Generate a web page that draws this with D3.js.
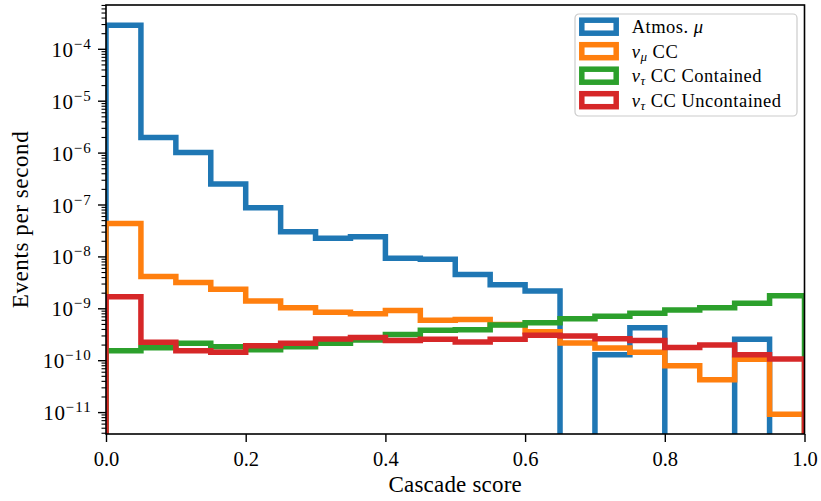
<!DOCTYPE html>
<html>
<head>
<meta charset="utf-8">
<script src="https://cdn.jsdelivr.net/npm/d3@7"></script>
<style>
  body { margin: 0; background: #fff; }
  svg { font-family: "Liberation Serif", "DejaVu Serif", serif; }
</style>
</head>
<body>
<svg id="chart" width="821" height="501"></svg>
<script>
// bin edges: 20 bins of width 0.05 on the cascade score
const binEdges = d3.range(0, 21).map(i => i * 0.05);

// events per second per bin (0 = empty bin)
const atmosMu = [2.9e-4, 2.0e-6, 1.03e-6, 2.55e-7, 8.9e-8, 3.05e-8, 2.3e-8, 2.45e-8, 9.4e-9, 9.0e-9,
                 4.6e-9, 2.9e-9, 2.2e-9, 0, 1.3e-10, 4.3e-10, 0, 0, 2.6e-10, 0];
const numuCC = [4.4e-8, 4.2e-9, 3.2e-9, 2.37e-9, 1.41e-9, 1.05e-9, 8.6e-10, 8.0e-10, 9.3e-10, 6.0e-10,
                6.2e-10, 5.0e-10, 3.6e-10, 2.2e-10, 1.75e-10, 1.45e-10, 8.0e-11, 4.3e-11, 1.07e-10, 9.3e-12];
const nutauContained = [1.55e-10, 1.78e-10, 2.16e-10, 1.86e-10, 1.62e-10, 1.86e-10, 2.16e-10, 2.5e-10, 3.2e-10, 3.85e-10,
                        3.95e-10, 4.9e-10, 5.4e-10, 6.4e-10, 7.2e-10, 8.2e-10, 9.5e-10, 1.05e-9, 1.28e-9, 1.78e-9];
const nutauUncontained = [1.7e-9, 2.26e-10, 1.55e-10, 1.45e-10, 1.94e-10, 2.16e-10, 2.63e-10, 2.8e-10, 2.45e-10, 2.6e-10,
                          2.3e-10, 2.6e-10, 3.1e-10, 3.0e-10, 2.66e-10, 2.45e-10, 1.8e-10, 2.0e-10, 1.3e-10, 1.08e-10];

const seriesNames = ["Atmos. μ", "ν_μ CC", "ν_τ CC Contained", "ν_τ CC Uncontained"];
const seriesColors = ["#1f77b4", "#ff7f0e", "#2ca02c", "#d62728"];
const seriesValues = [atmosMu, numuCC, nutauContained, nutauUncontained];

const xTicks = [0, 0.2, 0.4, 0.6, 0.8, 1.0];
const yDecades = d3.range(-11, -3); // 1e-11 .. 1e-4
const yLimits = [3.87e-12, 7.14e-4];

const svg = d3.select('#chart');
const margin = { left: 106, right: 821 - 804.5, top: 5, bottom: 501 - 434 };
const W = 821 - margin.left - margin.right;
const H = 501 - margin.top - margin.bottom;

const x = d3.scaleLinear().domain([0, 1]).range([0, W]);
const y = d3.scaleLog().domain(yLimits).range([H, 0]);

const g = svg.append('g').attr('transform', `translate(${margin.left},${margin.top})`);

g.append('defs').append('clipPath').attr('id', 'plot-clip')
  .append('rect').attr('width', W).attr('height', H);

// step outline like histtype='step'
function stepPoints(vals) {
  const low = H + 30;
  const yy = v => v > 0 ? y(v) : low;
  const pts = [[x(binEdges[0]), low]];
  vals.forEach((v, i) => {
    pts.push([x(binEdges[i]), yy(v)]);
    pts.push([x(binEdges[i + 1]), yy(v)]);
  });
  pts.push([x(binEdges[binEdges.length - 1]), low]);
  return pts;
}

const line = d3.line();
const hist = g.append('g').attr('clip-path', 'url(#plot-clip)');
seriesValues.forEach((vals, i) => {
  hist.append('path')
    .attr('d', line(stepPoints(vals)))
    .attr('fill', 'none')
    .attr('stroke', seriesColors[i])
    .attr('stroke-width', 5.5)
    .attr('stroke-linejoin', 'miter');
});

// x axis
const xAxis = g.append('g').attr('transform', `translate(0,${H})`)
  .call(d3.axisBottom(x).tickValues(xTicks).tickFormat(d3.format('.1f')).tickSize(8).tickPadding(9));
xAxis.select('.domain').remove();
xAxis.selectAll('line').attr('stroke', '#000').attr('stroke-width', 1.4);
xAxis.selectAll('text').attr('font-size', 20.5).attr('font-family', '"Liberation Serif", serif').attr('fill', '#000');

// y axis: major decades and minor ticks
const minorTicks = [];
for (let e = -13; e <= -3; e++) {
  for (let m = 2; m <= 9; m++) {
    const v = m * Math.pow(10, e);
    if (v >= yLimits[0] && v <= yLimits[1]) minorTicks.push(v);
  }
}
const yAxis = g.append('g');
yAxis.selectAll('line.minor').data(minorTicks).enter().append('line')
  .attr('x1', -4.5).attr('x2', 0)
  .attr('y1', d => y(d)).attr('y2', d => y(d))
  .attr('stroke', '#000').attr('stroke-width', 1.1);
const major = yAxis.selectAll('g.major').data(yDecades).enter().append('g')
  .attr('transform', d => `translate(0,${y(Math.pow(10, d))})`);
major.append('line').attr('x1', -8).attr('x2', 0).attr('stroke', '#000').attr('stroke-width', 1.4);
const lbl = major.append('text').attr('x', -14).attr('y', 7.5)
  .attr('text-anchor', 'end').attr('font-size', 21).attr('fill', '#000');
lbl.append('tspan').attr('letter-spacing', 0.6).text('10');
lbl.append('tspan').attr('dy', -8).attr('font-size', 15).attr('letter-spacing', 1.2)
  .text(d => '\u2212' + Math.abs(d));

// spines
g.append('rect').attr('width', W).attr('height', H)
  .attr('fill', 'none').attr('stroke', '#000').attr('stroke-width', 1.6);

// axis labels
svg.append('text')
  .attr('x', margin.left + W / 2).attr('y', 492)
  .attr('text-anchor', 'middle').attr('font-size', 23).attr('letter-spacing', 0.2)
  .text('Cascade score');
svg.append('text')
  .attr('transform', `translate(28,${margin.top + H / 2}) rotate(-90)`)
  .attr('text-anchor', 'middle').attr('font-size', 23).attr('letter-spacing', 0.6)
  .text('Events per second');

// legend
const legend = svg.append('g').attr('transform', 'translate(575,14)');
legend.append('rect').attr('width', 222).attr('height', 102).attr('rx', 4)
  .attr('fill', '#fff').attr('fill-opacity', 0.8)
  .attr('stroke', '#cccccc').attr('stroke-width', 1.2);
seriesNames.forEach((name, i) => {
  const row = legend.append('g').attr('transform', `translate(0,${12.7 + i * 24.5})`);
  row.append('rect').attr('x', 6.8).attr('y', -6.5).attr('width', 34.4).attr('height', 13)
    .attr('fill', 'none').attr('stroke', seriesColors[i]).attr('stroke-width', 5.5);
  const t = row.append('text').attr('x', 56.7).attr('y', 6.6).attr('font-size', 18.5)
    .attr('letter-spacing', 0.5).attr('fill', '#000');
  if (name.startsWith('ν_')) {
    t.append('tspan').attr('font-style', 'italic').text('ν');
    t.append('tspan').attr('font-style', 'italic').attr('font-size', 13).attr('dy', 3).text(name.charAt(2));
    t.append('tspan').attr('dy', -3).text(' ' + name.slice(4));
  } else {
    t.append('tspan').text('Atmos.  ');
    t.append('tspan').attr('font-style', 'italic').text('μ');
  }
});
</script>
</body>
</html>
